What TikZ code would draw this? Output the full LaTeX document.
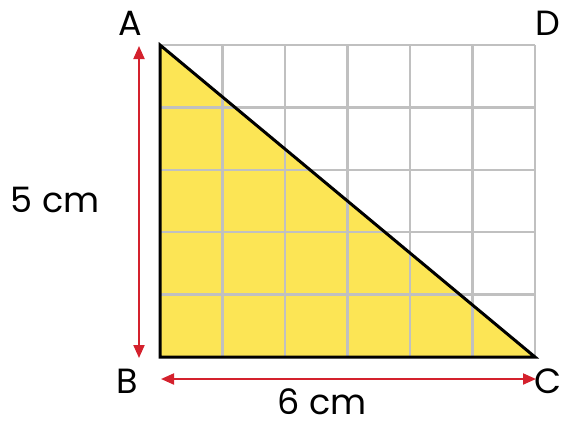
\documentclass[tikz,border=0pt]{standalone}
\usepackage{fontspec}
\setmainfont{Poppins}
\usepackage{xcolor}
\usetikzlibrary{arrows.meta,positioning}
\definecolor{TriYellow}{RGB}{252,229,85}
\definecolor{GridGray}{RGB}{192,192,192}
\definecolor{ArrRed}{RGB}{212,33,45}

\begin{document}
\begin{tikzpicture}[
  x=1pt, y=-1pt,
  lbl/.style={font=\fontsize{35}{35}\selectfont, inner sep=0pt},
  gridline/.style={draw=GridGray, line width=2.5pt},
  edge/.style={draw=black, line width=3pt, line join=miter},
  dim/.style={{Triangle[length=13pt,width=11pt]}-{Triangle[length=13pt,width=11pt]}, line width=2pt, draw=ArrRed, fill=ArrRed}
]
\useasboundingbox (0,0) rectangle (563,424);
\coordinate (pA) at (160,45);
\coordinate (pB) at (160,357);
\coordinate (pC) at (535,357);
\coordinate (pD) at (535,45);

\fill[TriYellow] (pA) -- (pB) -- (pC) -- cycle;
\foreach \i in {0,...,6} {
  \draw[gridline] (160+62.5*\i,45) -- (160+62.5*\i,357);
}
\foreach \j in {0,...,5} {
  \draw[gridline] (160,45+62.4*\j) -- (535,45+62.4*\j);
}
\draw[edge] (pA) -- (pB) -- (pC) -- cycle;

\node[lbl] (A) at (130,23) {A};
\node[lbl] (D) at (548,23) {D};
\node[lbl] (B) at (127,381) {B};
\node[lbl] (C) at (548,381) {C};

\coordinate (vtop) at (139,46);
\coordinate (vbot) at (139,358);
\coordinate (hleft) at (161,379);
\coordinate (hright) at (536,379);
\draw[dim] (vtop) -- (vbot);
\draw[dim] (hleft) -- (hright);

\node[lbl] (height) at (55,200) {5 cm};
\node[lbl, text depth=0pt, anchor=base] (base) at (322,414) {6 cm};
\end{tikzpicture}
\end{document}
